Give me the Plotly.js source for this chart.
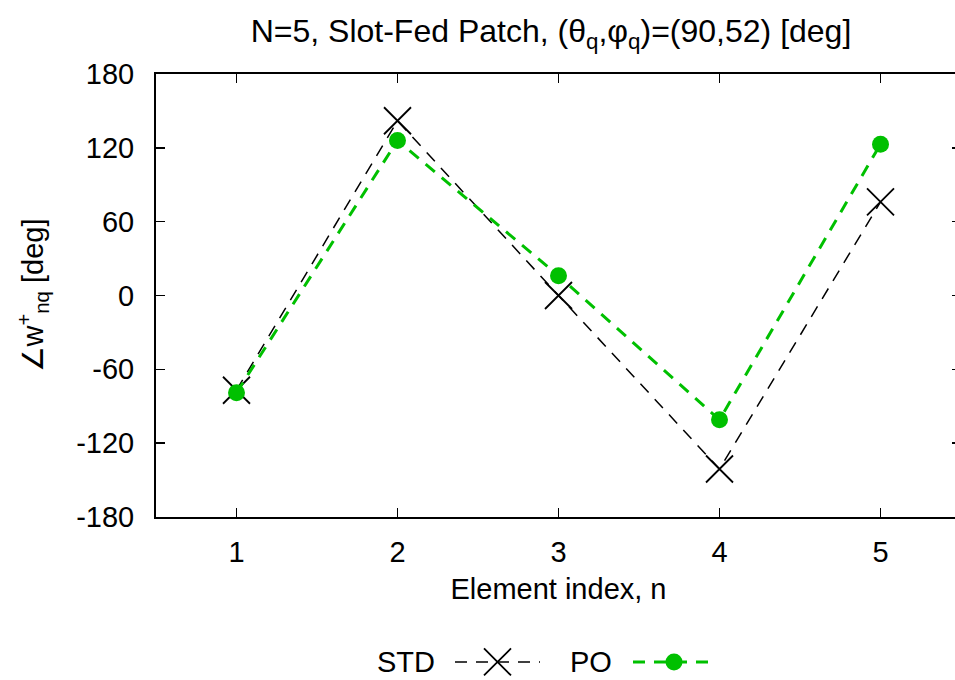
<!DOCTYPE html>
<html>
<head>
<meta charset="utf-8">
<script src="https://cdn.plot.ly/plotly-3.0.1.min.js"></script>
<style>
html,body{margin:0;padding:0;overflow:hidden;background:#fff;}
#chart{width:962px;height:680px;}
</style>
</head>
<body>
<div id="chart"></div>
<script>
const elementIndex = [1, 2, 3, 4, 5];
const stdPhase = [-77, 142, 0, -141, 76];
const poPhase = [-79, 126, 16, -101, 123];
const yTicks = [-180, -120, -60, 0, 60, 120, 180];
const seriesNames = ["STD", "PO"];

const FONT = "Liberation Sans, Arial, sans-serif";
const GREEN = "#00c000";
const TICKSIZE = 29;

const W = 962, H = 680;
const plotL = 156, plotR = W - 1, plotT = 74, plotB = 517;
const areaH = H - plotT;       // plot area height (b margin 0)
const areaW = plotR - plotL;
const legendY = 662;
const fy = v => (H - v) / areaH;
const fx = v => (v - plotL) / areaW;

const stdLine = {color: "#000", width: 1.5, dash: "12px,9px"};
const stdMarker = {symbol: "x-thin-open", size: 27, color: "#000", line: {color: "#000", width: 1.8}};
const poLine = {color: GREEN, width: 3, dash: "12px,9px"};
const poMarker = {symbol: "circle", size: 17, color: GREEN};

const traces = [
  {x: elementIndex, y: stdPhase, type: "scatter", mode: "lines+markers",
   name: seriesNames[0], line: stdLine, marker: stdMarker, showlegend: false},
  {x: elementIndex, y: poPhase, type: "scatter", mode: "lines+markers",
   name: seriesNames[1], line: poLine, marker: poMarker, showlegend: false},
  // legend samples on small separate axes
  {x: [0, 1], y: [0, 0], xaxis: "x2", yaxis: "y2", type: "scatter", mode: "lines",
   line: stdLine, showlegend: false, hoverinfo: "skip"},
  {x: [0.5], y: [0], xaxis: "x2", yaxis: "y2", type: "scatter", mode: "markers",
   marker: stdMarker, showlegend: false, hoverinfo: "skip"},
  {x: [0, 1], y: [0, 0], xaxis: "x3", yaxis: "y3", type: "scatter", mode: "lines",
   line: poLine, showlegend: false, hoverinfo: "skip"},
  {x: [0.5], y: [0], xaxis: "x3", yaxis: "y3", type: "scatter", mode: "markers",
   marker: poMarker, showlegend: false, hoverinfo: "skip"}
];

const layout = {
  width: W, height: H,
  margin: {l: plotL, r: W - plotR, t: plotT, b: 0},
  paper_bgcolor: "#fff", plot_bgcolor: "rgba(0,0,0,0)",
  font: {family: FONT, size: TICKSIZE, color: "#000"},
  showlegend: false,
  title: {
    text: "N=5, Slot-Fed Patch, (θ<sub>q</sub>,φ<sub>q</sub>)=(90,52) [deg]",
    font: {family: FONT, size: 32, color: "#000"},
    x: 551 / W, xanchor: "center", y: 1 - 31 / H, yanchor: "middle"
  },
  xaxis: {
    range: [0.5, 5.5], tickvals: elementIndex, ticktext: elementIndex.map(String),
    ticks: "inside", ticklen: 9, tickwidth: 1.5, tickcolor: "#000",
    showline: true, linecolor: "#000", linewidth: 2, mirror: "allticks",
    showgrid: false, zeroline: false, anchor: "y",
    tickfont: {family: FONT, size: TICKSIZE},
    ticklabelstandoff: 8,
    title: {text: "Element index, n", font: {family: FONT, size: TICKSIZE}, standoff: 12}
  },
  yaxis: {
    domain: [fy(plotB), 1],
    range: [-180, 180], tickvals: yTicks, ticktext: yTicks.map(String),
    ticks: "inside", ticklen: 9, tickwidth: 1.5, tickcolor: "#000",
    showline: true, linecolor: "#000", linewidth: 2, mirror: "allticks",
    showgrid: false, zeroline: false,
    tickfont: {family: FONT, size: TICKSIZE},
    ticklabelstandoff: 14,
    title: {text: "∠w<sup>+</sup><sub>nq</sub> [deg]", font: {family: FONT, size: TICKSIZE}, standoff: 24}
  },
  xaxis2: {domain: [fx(455), fx(540)], range: [0, 1], visible: false, fixedrange: true, anchor: "y2"},
  yaxis2: {domain: [fy(legendY) - 0.03, fy(legendY) + 0.03], range: [-1, 1], visible: false, fixedrange: true, anchor: "x2"},
  xaxis3: {domain: [fx(633), fx(715)], range: [0, 1], visible: false, fixedrange: true, anchor: "y3"},
  yaxis3: {domain: [fy(legendY) - 0.03, fy(legendY) + 0.03], range: [-1, 1], visible: false, fixedrange: true, anchor: "x3"},
  annotations: [
    {text: seriesNames[0], xref: "paper", yref: "paper", x: fx(437), y: fy(legendY),
     xanchor: "right", yanchor: "middle", showarrow: false, font: {family: FONT, size: TICKSIZE}},
    {text: seriesNames[1], xref: "paper", yref: "paper", x: fx(614), y: fy(legendY),
     xanchor: "right", yanchor: "middle", showarrow: false, font: {family: FONT, size: TICKSIZE}}
  ]
};

Plotly.newPlot("chart", traces, layout, {displayModeBar: false, staticPlot: true});
</script>
</body>
</html>
